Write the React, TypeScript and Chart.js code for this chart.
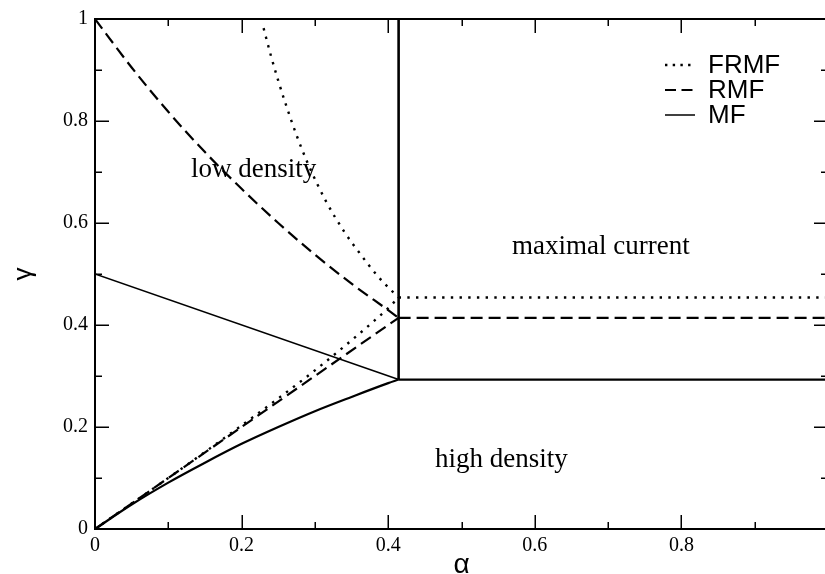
import React, { useEffect, useRef } from "react";
import { Chart, registerables } from "chart.js";

Chart.register(...registerables);

// ---- axis ticks ----
const xMajorTicks = [0, 0.2, 0.4, 0.6, 0.8, 1.0];
const xTickLabels = ["0", "0.2", "0.4", "0.6", "0.8"];
const yMajorTicks = [0, 0.2, 0.4, 0.6, 0.8, 1];
const yTickLabels = ["0", "0.2", "0.4", "0.6", "0.8", "1"];
const minorTicks = [0.1, 0.3, 0.5, 0.7, 0.9];

// ---- MF (solid) ----
const mfUpperAlpha = [0, 0.4142];
const mfUpperGamma = [0.5, 0.293];
const mfLowerAlpha = [0, 0.05, 0.1, 0.15, 0.2, 0.25, 0.3, 0.35, 0.4, 0.4142];
const mfLowerGamma = [0, 0.048, 0.091, 0.13, 0.167, 0.2, 0.231, 0.259, 0.286, 0.293];
const mfFlatAlpha = [0.4142, 1];
const mfFlatGamma = [0.293, 0.293];
const mfVerticalAlpha = [0.4142, 0.4142];
const mfVerticalGamma = [0.293, 1];

// ---- RMF (dashed) ----
const rmfUpperAlpha = [0, 0.05, 0.1, 0.15, 0.2, 0.25, 0.3, 0.35, 0.4, 0.4142];
const rmfUpperGamma = [1, 0.905, 0.818, 0.739, 0.667, 0.6, 0.538, 0.481, 0.429, 0.414];
const rmfLowerAlpha = [0, 0.1, 0.2, 0.3, 0.4, 0.4142];
const rmfLowerGamma = [0, 0.1, 0.2, 0.3, 0.4, 0.414];
const rmfFlatAlpha = [0.4142, 1];
const rmfFlatGamma = [0.414, 0.414];

// ---- FRMF (dotted) ----
const frmfUpperAlpha = [0.23, 0.24, 0.25, 0.26, 0.275, 0.29, 0.315, 0.34, 0.3615, 0.385, 0.407, 0.4142];
const frmfUpperGamma = [0.982, 0.928, 0.879, 0.834, 0.772, 0.718, 0.643, 0.583, 0.54, 0.497, 0.464, 0.454];
const frmfLowerAlpha = [0, 0.05, 0.1, 0.15, 0.2, 0.25, 0.3, 0.35, 0.38, 0.4, 0.4142];
const frmfLowerGamma = [0, 0.05, 0.1, 0.151, 0.203, 0.256, 0.311, 0.37, 0.407, 0.433, 0.454];
const frmfFlatAlpha = [0.4142, 1];
const frmfFlatGamma = [0.454, 0.454];

// ---- texts ----
const regionLabels = ["low density", "maximal current", "high density"];
const legendLabels = ["FRMF", "RMF", "MF"];

const pts = (xs: number[], ys: number[]) => xs.map((v, i) => ({ x: v, y: ys[i] }));

const DOT = [2.4, 6.3];
const DASH = [12, 6];

function ds(xs: number[], ys: number[], width: number, dash: number[], smooth = false) {
  return {
    data: pts(xs, ys),
    showLine: true,
    borderColor: "#000",
    backgroundColor: "#000",
    borderWidth: width,
    borderDash: dash,
    borderCapStyle: "butt" as const,
    pointRadius: 0,
    pointHoverRadius: 0,
    cubicInterpolationMode: smooth ? "monotone" : "default",
    tension: 0,
    fill: false,
  };
}

const decorPlugin = {
  id: "decor",
  afterDraw(chart: any) {
    const { ctx, chartArea: a, scales } = chart;
    const x = scales.x;
    const y = scales.y;
    ctx.save();
    ctx.strokeStyle = "#000";
    ctx.fillStyle = "#000";
    ctx.setLineDash([]);
    const seg = (x1: number, y1: number, x2: number, y2: number) => {
      ctx.beginPath();
      ctx.moveTo(x1, y1);
      ctx.lineTo(x2, y2);
      ctx.stroke();
    };
    ctx.lineWidth = 1.5;
    const xTick = (v: number, len: number) => {
      const p = Math.round(x.getPixelForValue(v)) + 0.25;
      seg(p, a.bottom, p, a.bottom - len);
      seg(p, a.top, p, a.top + len);
    };
    const yTick = (v: number, len: number) => {
      const p = Math.round(y.getPixelForValue(v)) + 0.25;
      seg(a.left, p, a.left + len, p);
      seg(a.right, p, a.right - len, p);
    };
    xMajorTicks.forEach((v) => xTick(v, 14));
    minorTicks.forEach((v) => xTick(v, 7));
    yMajorTicks.forEach((v) => yTick(v, 14));
    minorTicks.forEach((v) => yTick(v, 7));

    ctx.lineWidth = 2;
    ctx.strokeRect(a.left, a.top, a.right - a.left, a.bottom - a.top);

    // region labels (anchored in data units: left edge, baseline)
    ctx.font = "27px 'Liberation Serif', serif";
    ctx.textAlign = "left";
    ctx.textBaseline = "alphabetic";
    const anchors = [
      [0.131, 0.6907],
      [0.569, 0.539],
      [0.4638, 0.1212],
    ];
    regionLabels.forEach((t, i) => {
      ctx.fillText(t, x.getPixelForValue(anchors[i][0]), y.getPixelForValue(anchors[i][1]));
    });

    // legend
    const lx0 = 665;
    const lx1 = 695;
    const rows = [65, 90, 115];
    const dashes = [[2.4, 5.3], [11, 5.5], []];
    const widths = [2.4, 2.2, 1.5];
    ctx.font = "26px 'Liberation Sans', sans-serif";
    ctx.textBaseline = "middle";
    legendLabels.forEach((t, i) => {
      ctx.lineWidth = widths[i];
      ctx.setLineDash(dashes[i]);
      seg(lx0, rows[i], lx1, rows[i]);
      ctx.setLineDash([]);
      ctx.fillText(t, 708, rows[i] + 1);
    });
    ctx.restore();
  },
};

export default function App() {
  const ref = useRef<HTMLCanvasElement>(null);
  useEffect(() => {
    const canvas = ref.current;
    if (!canvas) return;
    const chart = new Chart(canvas, {
      type: "scatter",
      data: {
        datasets: [
          ds(mfUpperAlpha, mfUpperGamma, 1.5, []),
          ds(mfLowerAlpha, mfLowerGamma, 2.2, [], true),
          ds(mfFlatAlpha, mfFlatGamma, 2.2, []),
          ds(mfVerticalAlpha, mfVerticalGamma, 2.6, []),
          ds(rmfUpperAlpha, rmfUpperGamma, 2.2, DASH, true),
          ds(rmfLowerAlpha, rmfLowerGamma, 2.2, DASH),
          ds(rmfFlatAlpha, rmfFlatGamma, 2.2, DASH),
          ds(frmfUpperAlpha, frmfUpperGamma, 2.4, DOT, true),
          ds(frmfLowerAlpha, frmfLowerGamma, 2.4, DOT, true),
          ds(frmfFlatAlpha, frmfFlatGamma, 2.4, DOT),
        ] as any,
      },
      options: {
        responsive: false,
        animation: false,
        devicePixelRatio: 1,
        events: [],
        layout: { padding: { top: 15, right: 2, left: 0, bottom: 0 } },
        plugins: { legend: { display: false }, tooltip: { enabled: false } },
        scales: {
          x: {
            type: "linear",
            min: 0,
            max: 1,
            afterBuildTicks: (s: any) => {
              s.ticks = xMajorTicks.slice(0, xTickLabels.length).map((v) => ({ value: v }));
            },
            afterFit: (s: any) => {
              s.height = 45;
            },
            grid: { display: false, drawTicks: false },
            border: { display: false },
            ticks: {
              autoSkip: false,
              maxRotation: 0,
              padding: 5,
              color: "#000",
              font: { family: "'Liberation Serif', serif", size: 20 },
              callback: (v: any) => xTickLabels[xMajorTicks.indexOf(Number(v))] ?? "",
            },
            title: {
              display: true,
              text: "α",
              color: "#000",
              padding: 0,
              font: { family: "'Liberation Sans', sans-serif", size: 28, lineHeight: 0.6 },
            },
          },
          y: {
            type: "linear",
            min: 0,
            max: 1,
            afterBuildTicks: (s: any) => {
              s.ticks = yMajorTicks.map((v) => ({ value: v }));
            },
            afterFit: (s: any) => {
              s.width = 95;
            },
            grid: { display: false, drawTicks: false },
            border: { display: false },
            ticks: {
              autoSkip: false,
              padding: 7,
              color: "#000",
              font: { family: "'Liberation Serif', serif", size: 20 },
              callback: (v: any) => yTickLabels[yMajorTicks.indexOf(Number(v))] ?? "",
            },
            title: {
              display: true,
              text: "γ",
              color: "#000",
              padding: { top: 8, bottom: 0 },
              font: { family: "'Liberation Sans', sans-serif", size: 26, lineHeight: 1.2 },
            },
          },
        },
      },
      plugins: [decorPlugin],
    } as any);
    return () => chart.destroy();
  }, []);
  return (
    <div
      style={{
        position: "fixed",
        left: 0,
        top: 0,
        width: 825,
        height: 574,
        overflow: "hidden",
        background: "#fff",
      }}
    >
      <canvas ref={ref} width={830} height={574} style={{ display: "block" }} />
    </div>
  );
}
